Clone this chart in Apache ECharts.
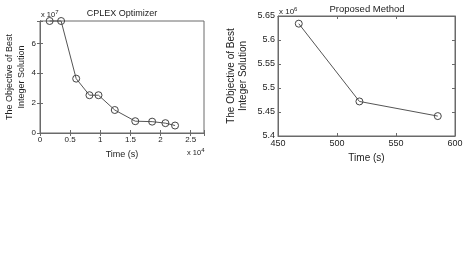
<!DOCTYPE html>
<html>
<head>
<meta charset="utf-8">
<script src="https://cdn.jsdelivr.net/npm/echarts@6/dist/echarts.min.js"></script>
<style>
  html, body { margin: 0; padding: 0; background: #fff; }
  #chart { width: 468px; height: 256px; }
</style>
</head>
<body>
<div id="chart"></div>
<script>
// CPLEX run: time in units of 1e4 s, objective in units of 1e7
const cplexTime = [0.16, 0.35, 0.60, 0.82, 0.97, 1.24, 1.58, 1.86, 2.08, 2.24];
const cplexObjective = [7.5, 7.5, 3.64, 2.53, 2.53, 1.54, 0.79, 0.76, 0.66, 0.50];

// Proposed method: time in s, objective in units of 1e6
const proposedTime = [467.6, 519.0, 585.4];
const proposedObjective = [5.634, 5.472, 5.4415];

const cplexXTicks = [0, 0.5, 1, 1.5, 2, 2.5];
const cplexYTicks = [0, 2, 4, 6];

const FONT = '"Liberation Sans", Arial, sans-serif';
const TEXT = '#222';
const AXIS = '#6a6a6a';

const chart = echarts.init(document.getElementById('chart'), null, { renderer: 'canvas' });

function pairs(xs, ys) { return xs.map((x, i) => [x, ys[i]]); }

function onTicks(list) {
  return v => list.some(t => Math.abs(t - v) < 1e-9) ? String(v) : '';
}

const lineStyle = { color: AXIS, width: 1 };
const tick = { show: true, inside: true, length: 3, lineStyle: { color: AXIS } };

function mirrorX(gridIndex, min, max, interval) {
  return {
    gridIndex, type: 'value', position: 'top', min, max, interval,
    axisLine: { show: true, lineStyle }, axisTick: tick,
    axisLabel: { show: false }, splitLine: { show: false }
  };
}
function mirrorY(gridIndex, min, max, interval) {
  return {
    gridIndex, type: 'value', position: 'right', min, max, interval,
    axisLine: { show: true, lineStyle }, axisTick: tick,
    axisLabel: { show: false }, splitLine: { show: false }
  };
}

// "x 10^n" exponent labels
function exponent(n, left, top, size) {
  return {
    text: '{b|x 10}{s|' + n + '}', left, top, padding: 0,
    textStyle: { rich: {
      b: { fontFamily: FONT, fontSize: size, fontWeight: 'normal', color: TEXT },
      s: { fontFamily: FONT, fontSize: 6, fontWeight: 'normal', color: TEXT,
           verticalAlign: 'top', padding: [0, 0, 5, 0] } } }
  };
}

const markerStyle = { color: 'transparent', borderColor: '#444', borderWidth: 1 };

const option = {
  backgroundColor: '#fff',
  animation: false,
  title: [
    { text: 'CPLEX Optimizer', left: 122, top: 9, padding: 0, textAlign: 'center',
      textStyle: { fontFamily: FONT, fontSize: 9, fontWeight: 'normal', color: TEXT } },
    { text: 'Proposed Method', left: 367, top: 4, padding: 0, textAlign: 'center',
      textStyle: { fontFamily: FONT, fontSize: 9.5, fontWeight: 'normal', color: TEXT } },
    exponent(7, 41, 9, 7.5),
    exponent(4, 187, 147, 7.5),
    exponent(6, 279, 6, 8)
  ],
  grid: [
    { left: 40, top: 21, right: 264, bottom: 123, show: true, borderColor: AXIS, borderWidth: 1 },
    { left: 278, top: 16, right: 13, bottom: 120, show: true, borderColor: AXIS, borderWidth: 1 }
  ],
  xAxis: [
    { gridIndex: 0, type: 'value', min: 0, max: 2.72, interval: 0.5,
      name: 'Time (s)', nameLocation: 'middle', nameGap: 17,
      nameTextStyle: { fontFamily: FONT, fontSize: 9, color: TEXT },
      axisLine: { show: true, onZero: false, lineStyle }, axisTick: tick,
      axisLabel: { fontFamily: FONT, fontSize: 8, color: TEXT, margin: 3, formatter: onTicks(cplexXTicks) },
      splitLine: { show: false } },
    { gridIndex: 1, type: 'value', min: 450, max: 600, interval: 50,
      name: 'Time (s)', nameLocation: 'middle', nameGap: 17,
      nameTextStyle: { fontFamily: FONT, fontSize: 10, color: TEXT },
      axisLine: { show: true, onZero: false, lineStyle }, axisTick: tick,
      axisLabel: { fontFamily: FONT, fontSize: 9, color: TEXT, margin: 3 },
      splitLine: { show: false } },
    mirrorX(0, 0, 2.72, 0.5),
    mirrorX(1, 450, 600, 50)
  ],
  yAxis: [
    { gridIndex: 0, type: 'value', min: 0, max: 7.5, interval: 2,
      name: 'The Objective of Best\nInteger Solution', nameLocation: 'middle', nameGap: 11,
      nameTextStyle: { fontFamily: FONT, fontSize: 9, color: TEXT, lineHeight: 12 },
      axisLine: { show: true, onZero: false, lineStyle }, axisTick: tick,
      axisLabel: { fontFamily: FONT, fontSize: 8, color: TEXT, margin: 4, formatter: onTicks(cplexYTicks) },
      splitLine: { show: false } },
    { gridIndex: 1, type: 'value', min: 5.4, max: 5.65, interval: 0.05,
      name: 'The Objective of Best\nInteger Solution', nameLocation: 'middle', nameGap: 28.5,
      nameTextStyle: { fontFamily: FONT, fontSize: 10, color: TEXT, lineHeight: 12 },
      axisLine: { show: true, onZero: false, lineStyle }, axisTick: tick,
      axisLabel: { fontFamily: FONT, fontSize: 9, color: TEXT, margin: 3,
        formatter: v => String(Math.round(v * 100) / 100) },
      splitLine: { show: false } },
    mirrorY(0, 0, 7.5, 2),
    mirrorY(1, 5.4, 5.65, 0.05)
  ],
  series: [
    { type: 'line', xAxisIndex: 0, yAxisIndex: 0, clip: false,
      data: pairs(cplexTime, cplexObjective),
      symbol: 'circle', symbolSize: 7,
      lineStyle: { color: '#555', width: 1 },
      itemStyle: markerStyle },
    { type: 'line', xAxisIndex: 1, yAxisIndex: 1, clip: false,
      data: pairs(proposedTime, proposedObjective),
      symbol: 'circle', symbolSize: 7,
      lineStyle: { color: '#555', width: 1 },
      itemStyle: markerStyle }
  ]
};

chart.setOption(option);
</script>
</body>
</html>
